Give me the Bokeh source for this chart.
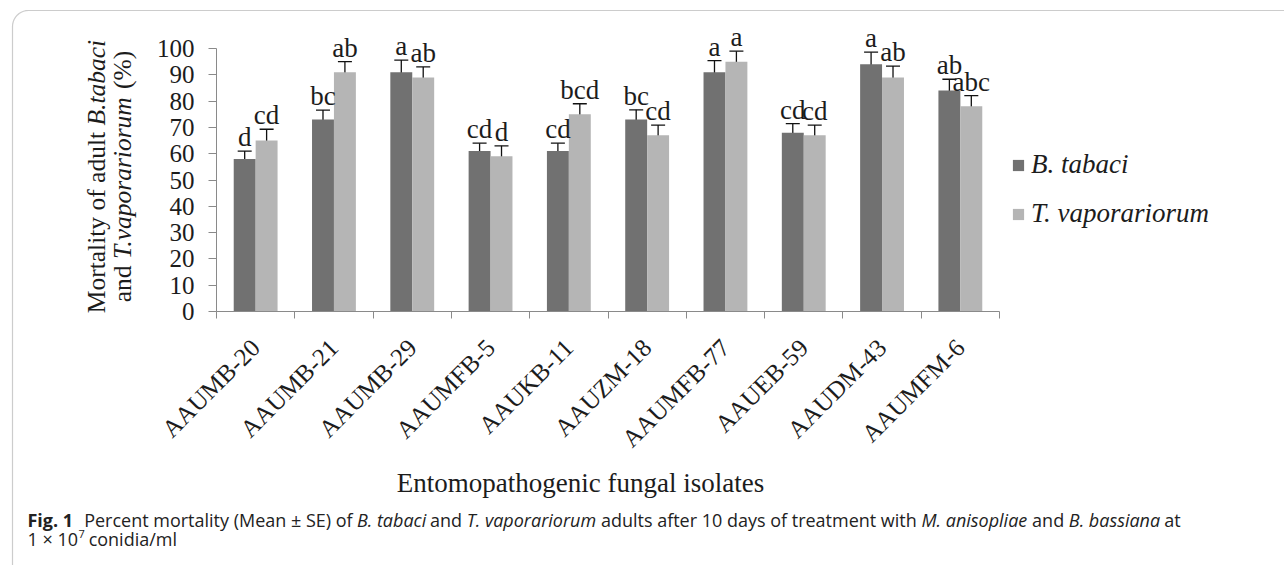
import math
from bokeh.plotting import figure
from bokeh.models import (ColumnDataSource, Whisker, TeeHead, FixedTicker, Label,
                          Legend, LegendItem, Range1d, PolyAnnotation)
from bokeh.core.properties import value
from bokeh.embed import file_html
from bokeh.resources import INLINE

# ---------------- data ----------------
isolates = ["AAUMB-20", "AAUMB-21", "AAUMB-29", "AAUMFB-5", "AAUKB-11",
            "AAUZM-18", "AAUMFB-77", "AAUEB-59", "AAUDM-43", "AAUMFM-6"]
btabaci = [58, 73, 91, 61, 61, 73, 91, 68, 94, 84]
btabaci_se = [3.0, 3.6, 4.6, 3.0, 3.0, 3.7, 4.4, 3.4, 4.6, 4.3]
btabaci_letters = ["d", "bc", "a", "cd", "cd", "bc", "a", "cd", "a", "ab"]
tvap = [65, 91, 89, 59, 75, 67, 95, 67, 89, 78]
tvap_se = [4.3, 4.0, 4.0, 4.0, 4.0, 3.9, 4.0, 3.9, 4.3, 4.1]
tvap_letters = ["cd", "ab", "ab", "d", "bcd", "cd", "a", "cd", "ab", "abc"]
y_ticks = [0, 10, 20, 30, 40, 50, 60, 70, 80, 90, 100]
series_names = ["B. tabaci", "T. vaporariorum"]

DARK = "#717171"
LIGHT = "#b5b5b5"
TXT = "#1c1c1c"
SERIF = "Liberation Serif"
SANS = "Open Sans"

W, H = 1284, 565
n = len(isolates)
centers = [i + 0.5 for i in range(n)]
off = 0.14
bw = 0.28

# page geometry: axis origin and scale (the frame covers the whole canvas)
X0, Y0 = 216, 311          # pixel of (x=0, y=0)
PX_X = (999 - 216) / n     # pixels per category
PX_Y = (311 - 48) / 100    # pixels per percent
BL = 0.37                  # baseline shift of rendered text, in em

src_b = ColumnDataSource(dict(
    x=[c - off for c in centers], top=btabaci,
    upper=[v + e for v, e in zip(btabaci, btabaci_se)],
    lower=[v - e for v, e in zip(btabaci, btabaci_se)],
    letter=btabaci_letters))
src_t = ColumnDataSource(dict(
    x=[c + off for c in centers], top=tvap,
    upper=[v + e for v, e in zip(tvap, tvap_se)],
    lower=[v - e for v, e in zip(tvap, tvap_se)],
    letter=tvap_letters))

p = figure(width=W, height=H, output_backend="svg", toolbar_location=None,
           x_range=Range1d(-X0 / PX_X, (W - X0) / PX_X),
           y_range=Range1d(-(H - Y0) / PX_Y, Y0 / PX_Y),
           min_border_left=0, min_border_right=0, min_border_top=0, min_border_bottom=0)
p.outline_line_color = None
p.xgrid.grid_line_color = None
p.ygrid.grid_line_color = None
p.background_fill_color = "white"
p.border_fill_color = "white"

rb = p.vbar(x="x", top="top", width=bw, source=src_b, fill_color=DARK, line_color=None)
rt = p.vbar(x="x", top="top", width=bw, source=src_t, fill_color=LIGHT, line_color=None)

LET_FS = 27
for s in (src_b, src_t):
    w = Whisker(base="x", upper="upper", lower="lower", source=s,
                line_color="#111111", line_width=1.3,
                upper_head=TeeHead(size=14, line_color="#111111", line_width=1.3),
                lower_head=TeeHead(size=14, line_color="#111111", line_width=1.3))
    p.add_layout(w)
    p.text(x="x", y="upper", text="letter", source=s, text_align="center",
           text_baseline="alphabetic", y_offset=-(4 + BL * LET_FS),
           text_font=value(SERIF), text_font_size=f"{LET_FS}px", text_color=TXT)

# y axis (drawn at x = 0)
ya = p.yaxis[0]
ya.fixed_location = 0
ya.ticker = FixedTicker(ticks=y_ticks)
ya.bounds = (0, 100)
ya.axis_line_color = "#8a8a8a"
ya.major_tick_line_color = "#8a8a8a"
ya.major_tick_out = 8
ya.major_tick_in = 0
ya.minor_tick_line_color = None
ya.major_label_standoff = 14
ya.major_label_text_font = SERIF
ya.major_label_text_font_size = "25px"
ya.major_label_text_color = TXT

# x axis (drawn at y = 0)
xa = p.xaxis[0]
xa.fixed_location = 0
xa.ticker = FixedTicker(ticks=centers, minor_ticks=list(range(n + 1)))
xa.bounds = (0, n)
xa.major_label_overrides = {c: name for c, name in zip(centers, isolates)}
xa.axis_line_color = "#8a8a8a"
xa.major_tick_line_color = None
xa.major_tick_out = 0
xa.major_tick_in = 0
xa.minor_tick_line_color = "#8a8a8a"
xa.minor_tick_out = 7
xa.minor_tick_in = 0
xa.major_label_orientation = math.pi / 4
xa.major_label_standoff = 25
xa.major_label_text_font = SERIF
xa.major_label_text_font_size = "25px"
xa.major_label_text_color = TXT


def sx(px):
    return px


def sy(py):
    return H - py


# legend
legend = Legend(items=[LegendItem(label=series_names[0], renderers=[rb]),
                       LegendItem(label=series_names[1], renderers=[rt])],
                location=(1011, sy(229)), orientation="vertical",
                glyph_width=14, glyph_height=14, label_height=30, label_standoff=6,
                spacing=18, padding=0, margin=0,
                border_line_color=None, background_fill_alpha=0,
                label_text_font=SERIF, label_text_font_style="italic",
                label_text_font_size="27px", label_text_color=TXT)
p.add_layout(legend, "center")

# ---------- widths for mixed-style text ----------
TR = {' ': 250, '(': 333, ')': 333, '%': 833, '.': 250, 'M': 889, 'a': 444, 'd': 500,
      'f': 333, 'i': 278, 'l': 278, 'n': 500, 'o': 500, 'r': 333, 't': 278, 'u': 500, 'y': 500}
TI = {' ': 250, 'B': 611, 'T': 556, '.': 250, 'a': 500, 'b': 500, 'c': 444, 'i': 278, 't': 278,
      'v': 444, 'p': 500, 'o': 500, 'r': 389, 'u': 500, 'm': 722}
OS = {' ': 532, '(': 578, ')': 578, '.': 545, '/': 694, '\u00b1': 1171, '\u00d7': 1171,
      '0': 1171, '1': 1171, '7': 1171, 'A': 1296, 'B': 1327, 'F': 1057, 'M': 1849, 'P': 1237,
      'S': 1124, 'T': 1143, 'E': 1139, 'a': 1139, 'b': 1255, 'c': 975, 'd': 1255, 'e': 1149,
      'f': 694, 'g': 1122, 'h': 1257, 'i': 518, 'l': 518, 'm': 1905, 'n': 1257, 'o': 1237,
      'p': 1255, 'r': 836, 's': 977, 't': 723, 'u': 1257, 'v': 1026, 'w': 1593, 'y': 1028}


def width(s, style, fs):
    if style in ("tr", "ti"):
        t = TR if style == "tr" else TI
        return sum(t.get(c, 500) for c in s) / 1000 * fs
    k = {"normal": 1.0, "italic": 0.955, "bold": 1.09}[style]
    return sum(OS.get(c, 1100) for c in s) / 2048 * fs * k


# y axis title: two rotated lines (baseline x positions on the page)
ylab_fs = 25.5
ylines = [([("Mortality of adult ", "tr"), ("B.tabaci", "ti")], 105),
          ([("and ", "tr"), ("T.vaporariorum", "ti"), (" (%)", "tr")], 131)]
for segs, base_x in ylines:
    total = sum(width(t, st, ylab_fs) for t, st in segs)
    pos = sy(176) - total / 2
    for t, st in segs:
        lead = len(t) - len(t.lstrip(' '))
        txt = t.strip(' ')
        p.add_layout(Label(x=sx(base_x - BL * ylab_fs), y=pos + width(t[:lead], st, ylab_fs),
                           x_units="screen", y_units="screen", text=txt, angle=math.pi / 2,
                           text_align="left", text_baseline="alphabetic",
                           text_font=SERIF, text_font_size=f"{ylab_fs}px",
                           text_font_style="italic" if st == "ti" else "normal",
                           text_color=TXT))
        pos += width(t, st, ylab_fs)

# x axis title
TT_FS = 27
p.add_layout(Label(x=sx(580), y=sy(492 - BL * TT_FS), x_units="screen", y_units="screen",
                   text="Entomopathogenic fungal isolates", text_align="center",
                   text_baseline="alphabetic", text_font=SERIF, text_font_size=f"{TT_FS}px",
                   text_color=TXT))

# caption
cap1 = [("Fig. 1", "bold"), ("  Percent mortality (Mean \u00b1 SE) of ", "normal"),
        ("B. tabaci", "italic"), (" and ", "normal"), ("T. vaporariorum", "italic"),
        (" adults after 10 days of treatment with ", "normal"), ("M. anisopliae", "italic"),
        (" and ", "normal"), ("B. bassiana", "italic"), (" at", "normal")]
cap_start, cap_end = 27, 1180
em_total = sum(width(t, st, 1.0) for t, st in cap1)
cfs = min(18.0, (cap_end - cap_start) / em_total)
CAP_COL = "#222222"


def put_segments(segs, x0, base_y, fs):
    pos = x0
    for t, st in segs:
        lead = len(t) - len(t.lstrip(' '))
        txt = t.strip(' ')
        if txt:
            p.add_layout(Label(x=sx(pos + width(t[:lead], st, fs)), y=sy(base_y - BL * fs),
                               x_units="screen", y_units="screen", text=txt,
                               text_align="left", text_baseline="alphabetic",
                               text_font=SANS, text_font_size=f"{fs:.2f}px",
                               text_font_style=st, text_color=CAP_COL))
        pos += width(t, st, fs)
    return pos


put_segments(cap1, cap_start, 526, cfs)
xe = put_segments([("1 \u00d7 10", "normal")], cap_start, 545, cfs)
SUP_FS = 11
p.add_layout(Label(x=sx(xe + 0.5), y=sy(538 - BL * SUP_FS), x_units="screen", y_units="screen",
                   text="7", text_align="left", text_baseline="alphabetic", text_font=SANS,
                   text_font_size=f"{SUP_FS}px", text_color=CAP_COL))
put_segments([(" conidia/ml", "normal")], xe + 6, 545, cfs)

# rounded frame around the figure (top and left edges)
r = 16
left_px, top_px = 12, 10
pts = [(1500, top_px)]
for k in range(0, 11):
    a = math.pi / 2 * k / 10
    pts.append((left_px + r - r * math.sin(a), top_px + r - r * math.cos(a)))
pts.append((left_px, 700))
pts.append((1500, 700))
p.add_layout(PolyAnnotation(xs=[sx(a) for a, b in pts], ys=[sy(b) for a, b in pts],
                            xs_units="screen", ys_units="screen",
                            fill_alpha=0, line_color="#555555", line_width=1.2))

open("out.html", "w").write(file_html(p, INLINE))
